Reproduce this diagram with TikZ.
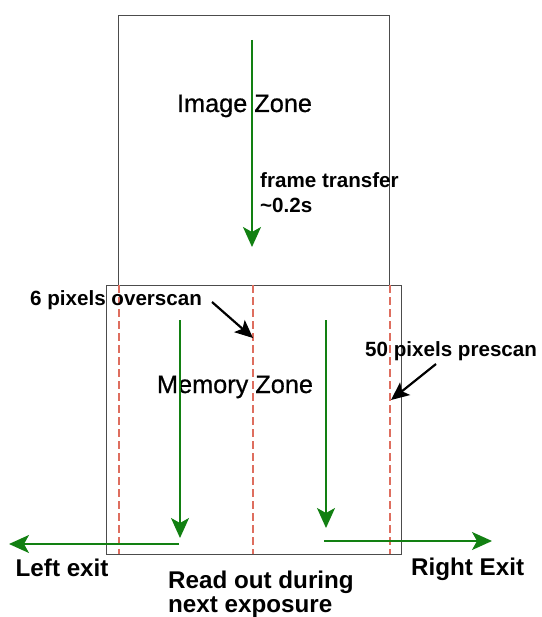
\documentclass[tikz,border=0pt]{standalone}
\usepackage{fontspec}
\setmainfont{Liberation Sans}
\newfontfamily\zonefont[FakeBold=0.6]{Liberation Sans}
\usetikzlibrary{arrows.meta}
\definecolor{flowgreen}{RGB}{18,128,18}
\definecolor{scanred}{RGB}{222,110,95}
\begin{document}
\begin{tikzpicture}[x=1pt,y=-1pt,
  zone/.style={draw=black!70,line width=0.8pt},
  scanline/.style={draw=scanred,dash pattern=on 8pt off 4pt,line width=1.1pt},
  flow/.style={draw=flowgreen,line width=1.7pt,-{Stealth[length=20pt,width=18pt,inset=5pt]}},
  pointer/.style={draw=black,line width=2.2pt,-{Stealth[length=18pt,width=16pt,inset=4pt]}},
  zonelabel/.style={font=\zonefont\fontsize{25.3}{28}\selectfont,inner sep=0pt,anchor=base},
  note/.style={font=\bfseries\fontsize{20.6}{24}\selectfont,inner sep=0pt,anchor=base west},
  exitlabel/.style={font=\bfseries\fontsize{24.2}{28}\selectfont,inner sep=0pt,anchor=base west}]
\useasboundingbox (0,0) rectangle (541,617);

% image zone and memory zone frames
\draw[zone] (118,286) -- (118,15) -- (389,15) -- (389,286);
\draw[zone] (106,285) rectangle (401,554);

% overscan / prescan column boundaries
\coordinate (s1t) at (119,285); \coordinate (s1b) at (119,554);
\coordinate (s2t) at (253,285); \coordinate (s2b) at (253,554);
\coordinate (s3t) at (390,285); \coordinate (s3b) at (390,554);
\draw[scanline] (s1t) -- (s1b);
\draw[scanline] (s2t) -- (s2b);
\draw[scanline] (s3t) -- (s3b);

% labels
\node[zonelabel] (imz) at (244.5,112) {Image Zone};
\node[zonelabel] (mmz) at (235,393) {Memory Zone};
\node[note] (ft) at (260,188) {frame transfer};
\node[note] (ft2) at (260,213) {\textasciitilde0.2s};
\node[note] (os) at (30,305) {6 pixels overscan};
\node[note] (ps) at (365,356) {50 pixels prescan};
\node[exitlabel] (lx) at (15.5,576) {Left exit};
\node[exitlabel] (rx) at (411,575) {Right Exit};
\node[exitlabel] (ro) at (168,588) {Read out during};
\node[exitlabel] (ro2) at (168,612) {next exposure};

% charge flow
\coordinate (ft0) at (252,40);  \coordinate (ft1) at (252,247);
\coordinate (lc0) at (180,320); \coordinate (lc1) at (180,538);
\coordinate (rc0) at (326,320); \coordinate (rc1) at (326,528);
\coordinate (le0) at (179,544); \coordinate (le1) at (9,544);
\coordinate (re0) at (324,541); \coordinate (re1) at (492,541);
\draw[flow] (ft0) -- (ft1);
\draw[flow] (lc0) -- (lc1);
\draw[flow] (rc0) -- (rc1);
\draw[flow] (le0) -- (le1);
\draw[flow] (re0) -- (re1);

% pointers to the scan columns
\coordinate (op0) at (212,302); \coordinate (op1) at (253,338);
\coordinate (pp0) at (436,364); \coordinate (pp1) at (391,400);
\draw[pointer] (op0) -- (op1);
\draw[pointer] (pp0) -- (pp1);
\end{tikzpicture}
\end{document}
